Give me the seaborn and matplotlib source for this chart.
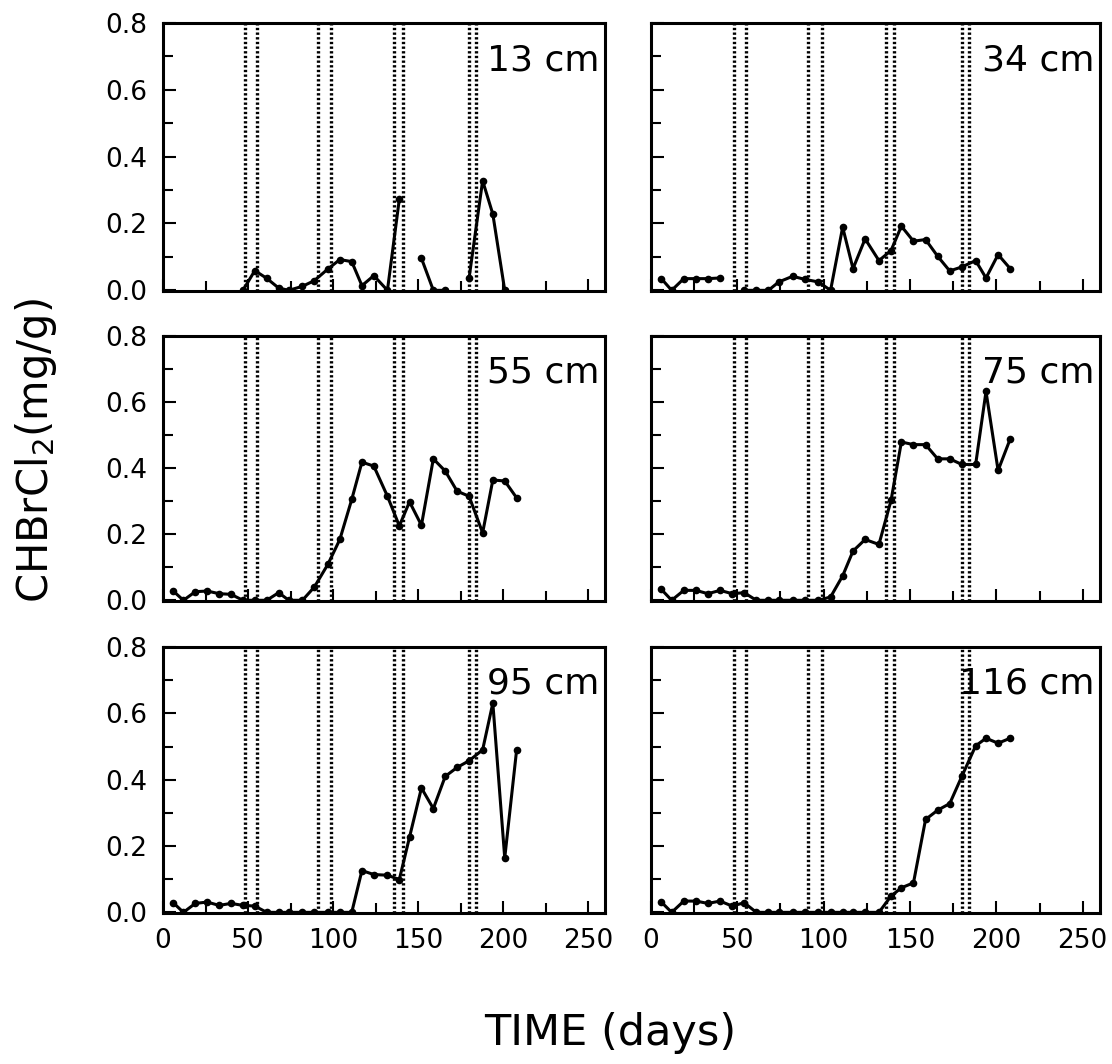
import numpy as np
import pandas as pd
import matplotlib
matplotlib.use("Agg")
import matplotlib.pyplot as plt
import seaborn as sns
from matplotlib.ticker import MultipleLocator, FormatStrFormatter

# sampling days (shared by all depths)
DAYS = [6, 12, 19, 26, 33, 40, 47, 54, 61, 68, 74, 82, 89, 97, 104,
        111, 117, 124, 132, 139, 145, 152, 159, 166, 173, 180, 188, 194, 201, 208]

nan = np.nan
# CHBrCl2 concentration (mg/g) per depth, NaN = no sample
C13 = [nan, nan, nan, nan, nan, nan, 0.0, 0.059, 0.036, 0.007, 0.0, 0.012, 0.029, 0.064, 0.092,
       0.086, 0.014, 0.044, 0.0, 0.273, nan, 0.096, 0.0, 0.0, nan, 0.036, 0.328, 0.228, 0.0, nan]
C34 = [0.035, 0.0, 0.035, 0.035, 0.035, 0.037, nan, 0.0, 0.0, 0.0, 0.025, 0.042, 0.033, 0.025, 0.0,
       0.189, 0.065, 0.154, 0.089, 0.119, 0.192, 0.147, 0.152, 0.102, 0.058, 0.070, 0.089, 0.037, 0.107, 0.065]
C55 = [0.028, 0.0, 0.026, 0.028, 0.020, 0.018, 0.0, 0.0, 0.0, 0.023, 0.0, 0.0, 0.040, 0.109, 0.184,
       0.305, 0.418, 0.406, 0.315, 0.225, 0.298, 0.227, 0.428, 0.391, 0.330, 0.315, 0.204, 0.364, 0.361, 0.310]
C75 = [0.033, 0.0, 0.030, 0.030, 0.020, 0.030, 0.020, 0.023, 0.0, 0.0, 0.0, 0.0, 0.0, 0.0, 0.010,
       0.074, 0.149, 0.184, 0.169, 0.302, 0.479, 0.471, 0.471, 0.428, 0.428, 0.411, 0.411, 0.632, 0.393, 0.488]
C95 = [0.029, 0.0, 0.027, 0.031, 0.021, 0.027, 0.021, 0.019, 0.0, 0.0, 0.0, 0.0, 0.0, 0.0, 0.0,
       0.0, 0.126, 0.114, 0.112, 0.099, 0.227, 0.375, 0.313, 0.410, 0.437, 0.457, 0.490, 0.631, 0.164, 0.490]
C116 = [0.031, 0.0, 0.034, 0.034, 0.027, 0.034, 0.019, 0.029, 0.0, 0.0, 0.0, 0.0, 0.0, 0.0, 0.0,
        0.0, 0.0, 0.0, 0.0, 0.049, 0.074, 0.089, 0.280, 0.308, 0.328, 0.410, 0.502, 0.525, 0.510, 0.525]

DEPTHS = ["13 cm", "34 cm", "55 cm", "75 cm", "95 cm", "116 cm"]
SERIES = [C13, C34, C55, C75, C95, C116]

# dotted event markers (days)
EVENT_DAYS = [48, 55, 91, 99, 136, 141, 180, 184]

frames = []
for depth, vals in zip(DEPTHS, SERIES):
    v = np.array(vals, dtype=float)
    seg = np.cumsum(np.isnan(v))
    frames.append(pd.DataFrame({"depth": depth, "day": DAYS, "conc": v, "seg": seg}))
df = pd.concat(frames).dropna()

sns.set_style("ticks")
plt.rcParams["font.family"] = ["DejaVu Sans"]
plt.rcParams["text.color"] = "black"
plt.rcParams["xtick.color"] = "black"
plt.rcParams["ytick.color"] = "black"

fig = plt.figure(figsize=(11.12, 10.64), dpi=100)

cols = [(0.1466, 0.3975), (0.5854, 0.4038)]
rows = [(0.7265, 0.2519), (0.4352, 0.2491), (0.1419, 0.2500)]

for i, depth in enumerate(DEPTHS):
    r, c = divmod(i, 2)
    ax = fig.add_axes([cols[c][0], rows[r][0], cols[c][1], rows[r][1]])
    for xv in EVENT_DAYS:
        ax.axvline(xv, color="black", ls=(0, (0.7, 0.7)), lw=2.4, zorder=1)
    sub = df[df["depth"] == depth]
    sns.lineplot(data=sub, x="day", y="conc", units="seg", estimator=None,
                 color="black", lw=2.2, marker="o", markersize=5.5,
                 markeredgewidth=0, ax=ax, zorder=3)
    ax.set_xlim(0, 260)
    ax.set_ylim(-0.002, 0.8)
    ax.xaxis.set_major_locator(MultipleLocator(50))
    ax.xaxis.set_minor_locator(MultipleLocator(25))
    ax.yaxis.set_major_locator(MultipleLocator(0.2))
    ax.yaxis.set_minor_locator(MultipleLocator(0.1))
    ax.yaxis.set_major_formatter(FormatStrFormatter("%.1f"))
    ax.tick_params(which="both", direction="in", width=1.5, top=False, right=False)
    ax.tick_params(which="major", length=9, labelsize=19, pad=11)
    ax.tick_params(which="minor", length=7)
    ax.set_xlabel("")
    ax.set_ylabel("")
    if r < 2:
        ax.tick_params(labelbottom=False)
    if c == 1:
        ax.tick_params(labelleft=False)
    for sp in ax.spines.values():
        sp.set_linewidth(2.2)
        sp.set_color("black")
    ax.text(0.988, 0.925, depth, transform=ax.transAxes, ha="right", va="top",
            fontsize=26)

fig.text(0.032, 0.577, "CHBrCl$_2$(mg/g)", rotation=90, ha="center", va="center",
         fontsize=30)
fig.text(0.549, 0.029, "TIME (days)", ha="center", va="center", fontsize=31)

fig.savefig("out.png", dpi=100)
